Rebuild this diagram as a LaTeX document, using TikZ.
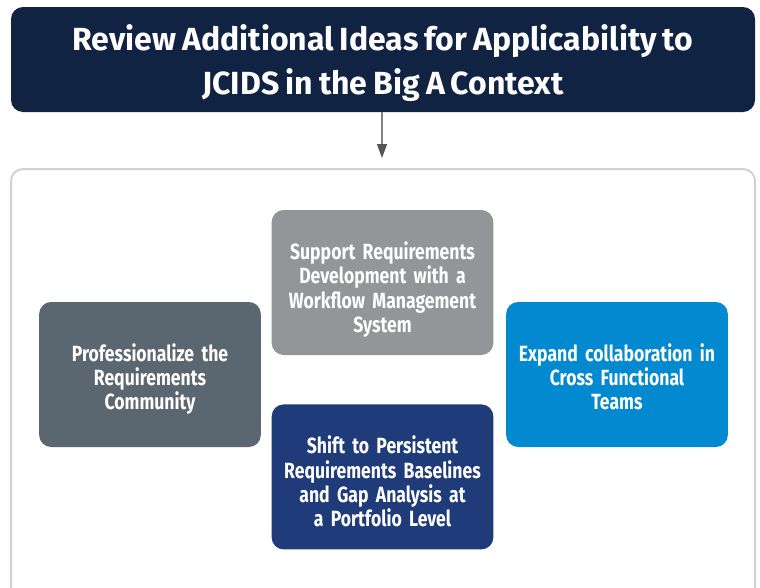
\documentclass[tikz,border=0pt]{standalone}
\usepackage{fontspec}
\setmainfont{Fira Sans}[FakeStretch=0.8,WordSpace=0.8]
\newfontfamily\titlefont{Fira Sans}[WordSpace=0.8]
\usetikzlibrary{positioning,arrows.meta}

\definecolor{titleblue}{RGB}{16,35,67}
\definecolor{slategray}{RGB}{90,102,112}
\definecolor{midgray}{RGB}{147,149,152}
\definecolor{skyblue}{RGB}{2,137,208}
\definecolor{navyblue}{RGB}{31,59,121}
\definecolor{framegray}{RGB}{208,211,214}
\definecolor{arrowgray}{RGB}{85,85,85}

\tikzset{
    % #1 = depth below the first line, sets where the text sits
    ideabox/.style={rounded corners=12pt,minimum width=221pt,minimum height=145pt,
        text width=215pt,text height=15pt,text depth=#1,align=center,text=white,
        font=\bfseries\fontsize{22}{24.3}\selectfont}
}

\begin{document}
\begin{tikzpicture}[x=1pt,y=-1pt]
    \useasboundingbox (0,0) rectangle (760,587);
    \fill[white] (0,0) rectangle (760,587);
    \begin{scope}
        \clip (0,0) rectangle (760,587);
        \draw[framegray,line width=2pt,rounded corners=12pt] (11,169) rectangle (755,620);
    \end{scope}
    \node (title) at (383,59.5) [fill=titleblue,rounded corners=12pt,minimum width=744pt,
        minimum height=105pt,text=white,align=center,text depth=-3pt,
        font=\titlefont\bfseries\fontsize{32}{44}\selectfont]
        {Review Additional Ideas for Applicability to\\JCIDS in the Big A Context};
    \coordinate (tip) at (382,158);
    \draw[gray,line width=1.3pt,-{Triangle[width=10pt,length=14pt,color=arrowgray]}] (title.south -| tip) -- (tip);

    \node (support) at (382.5,282.5) [ideabox=61pt,fill=midgray]
        {Support Requirements\\Development with a\\Workflow Management\\System};
    \node (shift) [ideabox=61pt,fill=navyblue,below=49pt of support]
        {Shift to Persistent\\Requirements Baselines\\and Gap Analysis at\\a Portfolio Level};
    \node (prof) at (150,374.5) [ideabox=42pt,fill=slategray]
        {Professionalize the\\Requirements\\Community};
    \node (expand) at (617,374.5) [ideabox=42pt,fill=skyblue]
        {Expand collaboration in\\Cross Functional\\Teams};
\end{tikzpicture}
\end{document}
